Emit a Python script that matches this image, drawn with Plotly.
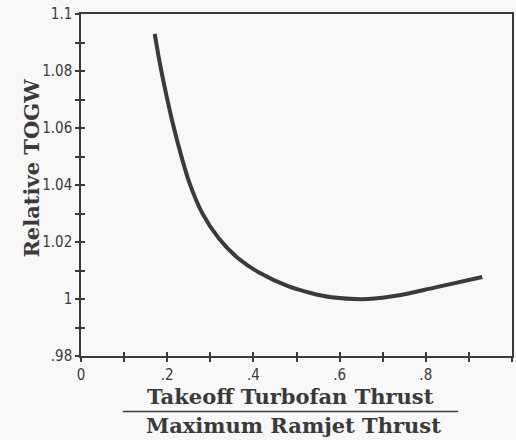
import plotly.graph_objects as go

# Datos
thrust_ratio = [0.171, 0.182, 0.194, 0.212, 0.233, 0.251, 0.281, 0.320, 0.366, 0.412,
                0.482, 0.535, 0.581, 0.666, 0.742, 0.820, 0.931]
relative_togw = [1.0930, 1.0835, 1.0744, 1.0622, 1.0500, 1.0410, 1.0302, 1.0212, 1.0141, 1.0094,
                 1.0044, 1.0020, 1.0006, 1.0000, 1.0014, 1.0040, 1.0077]

x_tickvals = [0, 0.2, 0.4, 0.6, 0.8, 1.0]
x_ticktext = ['0', '.2', '.4', '.6', '.8', '1']
y_tickvals = [0.98, 1.0, 1.02, 1.04, 1.06, 1.08, 1.1]
y_ticktext = ['.98', '1', '1.02', '1.04', '1.06', '1.08', '1.1']

INK = '#3a3a3a'
BG = '#f8f8f8'
tick_font = dict(family='DejaVu Sans Condensed, Liberation Sans Narrow, sans-serif', size=15, color=INK)
title_font = dict(family='DejaVu Serif, serif', size=21, color=INK)

fig = go.Figure()
fig.add_trace(go.Scatter(x=thrust_ratio, y=relative_togw, mode='lines',
                         line=dict(color=INK, width=4, shape='spline', smoothing=0.8),
                         showlegend=False))

# Ejes principales (ticks hacia fuera)
axis_common = dict(showline=True, linecolor=INK, linewidth=1.5, mirror=True,
                   showgrid=False, zeroline=False, ticks='outside', ticklen=4,
                   tickwidth=1.5, tickcolor=INK, tickfont=tick_font)
fig.update_layout(
    xaxis=dict(range=[0, 1], tickvals=x_tickvals, ticktext=x_ticktext,
               minor=dict(dtick=0.1, ticks='outside', ticklen=4, tickwidth=1.5, tickcolor=INK),
               ticklabelstandoff=0, **axis_common),
    yaxis=dict(range=[0.98, 1.1], tickvals=y_tickvals, ticktext=y_ticktext,
               minor=dict(dtick=0.01, ticks='outside', ticklen=4, tickwidth=1.5, tickcolor=INK),
               ticklabelstandoff=0, **axis_common),
    # Ejes duplicados para que las marcas crucen la línea del eje
    xaxis2=dict(overlaying='x', matches='x', range=[0, 1], showticklabels=False,
                showgrid=False, zeroline=False, ticks='inside', ticklen=4, tickwidth=1.5,
                tickcolor=INK, tickvals=[i / 10 for i in range(11)], side='bottom'),
    yaxis2=dict(overlaying='y', matches='y', range=[0.98, 1.1], showticklabels=False,
                showgrid=False, zeroline=False, ticks='inside', ticklen=4, tickwidth=1.5,
                tickcolor=INK, tickvals=[0.98 + i / 100 for i in range(13)], side='left'),
    width=516, height=440,
    margin=dict(l=81, r=2, t=14, b=84),
    paper_bgcolor=BG, plot_bgcolor=BG,
)
fig.add_trace(go.Scatter(x=[None], y=[None], xaxis='x2', yaxis='y2', showlegend=False))

# Títulos de los ejes
fig.add_annotation(text='<b>Relative TOGW</b>', xref='paper', yref='paper', x=-0.148, y=0.55,
                   textangle=-90, showarrow=False, font=title_font)
fig.add_annotation(text='<b>Takeoff Turbofan Thrust</b>', xref='paper', yref='paper', x=0.487, y=-0.118,
                   showarrow=False, font=title_font, yanchor='middle')
fig.add_annotation(text='<b>Maximum Ramjet Thrust</b>', xref='paper', yref='paper', x=0.493, y=-0.204,
                   showarrow=False, font=title_font, yanchor='middle')
fig.add_shape(type='line', xref='paper', yref='paper', x0=0.097, x1=0.875, y0=-0.162, y1=-0.162,
              line=dict(color=INK, width=1.5))

fig.write_html('out.html', config={'displayModeBar': False},
               post_script="document.body.style.margin='0';")
